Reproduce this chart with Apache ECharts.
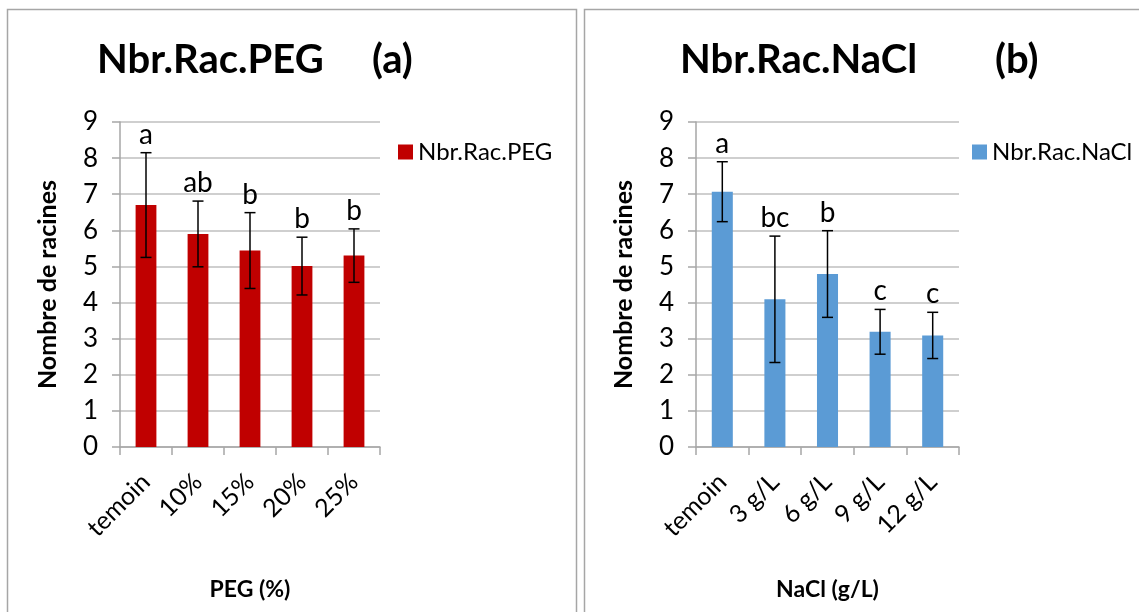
<!DOCTYPE html>
<html>
<head>
<meta charset="utf-8">
<script src="https://cdn.jsdelivr.net/npm/echarts@6/dist/echarts.min.js"></script>
<style>
  html, body { margin: 0; padding: 0; background: #fff; }
  #main { width: 1139px; height: 612px; }
</style>
</head>
<body>
<div id="main"></div>
<script>
// data
const pegCategories = ['temoin', '10%', '15%', '20%', '25%'];
const pegMeans = [6.70, 5.90, 5.44, 5.01, 5.30];
const pegErrors = [1.45, 0.91, 1.05, 0.80, 0.74];
const pegLetters = ['a', 'ab', 'b', 'b', 'b'];

const naclCategories = ['temoin', '3 g/L', '6 g/L', '9 g/L', '12 g/L'];
const naclMeans = [7.07, 4.09, 4.79, 3.19, 3.09];
const naclErrors = [0.83, 1.75, 1.20, 0.62, 0.64];
const naclLetters = ['a', 'bc', 'b', 'c', 'c'];

const yTicks = [0, 1, 2, 3, 4, 5, 6, 7, 8, 9];

const FONT = 'Lato';
const gridColor = '#BFBFBF';
const axisColor = '#A6A6A6';

function errorData(means, errors, letters) {
    return means.map((m, i) => [i, m - errors[i], m + errors[i], letters[i]]);
}

function renderError(params, api) {
    const x = api.value(0);
    const lo = api.coord([x, api.value(1)]);
    const hi = api.coord([x, api.value(2)]);
    const cap = 5.5;
    const lineStyle = { stroke: '#000', lineWidth: 1.5 };
    return {
        type: 'group',
        children: [
            { type: 'line', shape: { x1: hi[0], y1: hi[1], x2: lo[0], y2: lo[1] }, style: lineStyle },
            { type: 'line', shape: { x1: hi[0] - cap, y1: hi[1], x2: hi[0] + cap, y2: hi[1] }, style: lineStyle },
            { type: 'line', shape: { x1: lo[0] - cap, y1: lo[1], x2: lo[0] + cap, y2: lo[1] }, style: lineStyle },
            {
                type: 'text', x: hi[0], y: hi[1] - 4,
                style: {
                    text: api.value(3), fill: '#000', font: '28px ' + FONT,
                    align: 'center', verticalAlign: 'bottom'
                }
            }
        ]
    };
}

function xAxisFor(idx, cats, name) {
    return {
        type: 'category', gridIndex: idx, data: cats,
        name: name, nameLocation: 'middle', nameGap: 131,
        nameTextStyle: { fontFamily: FONT, fontSize: 23, fontWeight: 'bold', color: '#000' },
        axisLine: { lineStyle: { color: axisColor, width: 1.5 } },
        axisTick: { show: true, length: 8, lineStyle: { color: axisColor, width: 1.5 } },
        axisLabel: { rotate: 45, margin: 31, fontFamily: FONT, fontSize: 25, color: '#000', interval: 0 }
    };
}

function yAxisFor(idx) {
    return {
        type: 'value', gridIndex: idx, min: yTicks[0], max: yTicks[yTicks.length - 1], interval: 1,
        name: 'Nombre de racines', nameLocation: 'middle', nameGap: 60,
        nameTextStyle: { fontFamily: FONT, fontSize: 25, fontWeight: 'bold', color: '#000' },
        axisLine: { show: true, lineStyle: { color: axisColor, width: 1.5 } },
        axisTick: { show: true, length: 8, lineStyle: { color: axisColor, width: 1.5 } },
        axisLabel: { margin: 22, fontFamily: FONT, fontSize: 26, color: '#000' },
        splitLine: { lineStyle: { color: gridColor, width: 1.5 } }
    };
}

const titleStyle = { fontFamily: FONT, fontSize: 40, fontWeight: 'bold', color: '#000' };

const myChart = echarts.init(document.getElementById('main'));
const option = {
    backgroundColor: '#fff',
    animation: false,
    title: [
        { text: 'Nbr.Rac.PEG', left: 97, top: 40, padding: 0, textStyle: titleStyle },
        { text: '(a)', left: 372, top: 40, padding: 0, textStyle: titleStyle },
        { text: 'Nbr.Rac.NaCl', left: 680, top: 40, padding: 0, textStyle: titleStyle },
        { text: '(b)', left: 995, top: 40, padding: 0, textStyle: titleStyle }
    ],
    legend: [
        {
            data: ['Nbr.Rac.PEG'], left: 393, top: 135, itemWidth: 15, itemHeight: 15, itemGap: 6,
            icon: 'rect', textStyle: { fontFamily: FONT, fontSize: 24, color: '#000' }
        },
        {
            data: ['Nbr.Rac.NaCl'], left: 967, top: 135, itemWidth: 15, itemHeight: 15, itemGap: 6,
            icon: 'rect', textStyle: { fontFamily: FONT, fontSize: 24, color: '#000' }
        }
    ],
    graphic: [
        { type: 'rect', shape: { x: 7.5, y: 9.5, width: 569, height: 640 }, style: { fill: 'none', stroke: '#A6A6A6', lineWidth: 1.5 }, z: -1 },
        { type: 'rect', shape: { x: 584.5, y: 9.5, width: 570, height: 640 }, style: { fill: 'none', stroke: '#A6A6A6', lineWidth: 1.5 }, z: -1 }
    ],
    grid: [
        { left: 120, top: 122, width: 260, height: 325 },
        { left: 696, top: 122, width: 263, height: 325 }
    ],
    xAxis: [xAxisFor(0, pegCategories, 'PEG (%)'), xAxisFor(1, naclCategories, 'NaCl (g/L)')],
    yAxis: [yAxisFor(0), yAxisFor(1)],
    series: [
        {
            name: 'Nbr.Rac.PEG', type: 'bar', xAxisIndex: 0, yAxisIndex: 0,
            data: pegMeans, barWidth: '40%', itemStyle: { color: '#C00000' }
        },
        {
            type: 'custom', xAxisIndex: 0, yAxisIndex: 0, z: 5,
            data: errorData(pegMeans, pegErrors, pegLetters), renderItem: renderError
        },
        {
            name: 'Nbr.Rac.NaCl', type: 'bar', xAxisIndex: 1, yAxisIndex: 1,
            data: naclMeans, barWidth: '40%', itemStyle: { color: '#5B9BD5' }
        },
        {
            type: 'custom', xAxisIndex: 1, yAxisIndex: 1, z: 5,
            data: errorData(naclMeans, naclErrors, naclLetters), renderItem: renderError
        }
    ]
};
myChart.setOption(option);
</script>
</body>
</html>
